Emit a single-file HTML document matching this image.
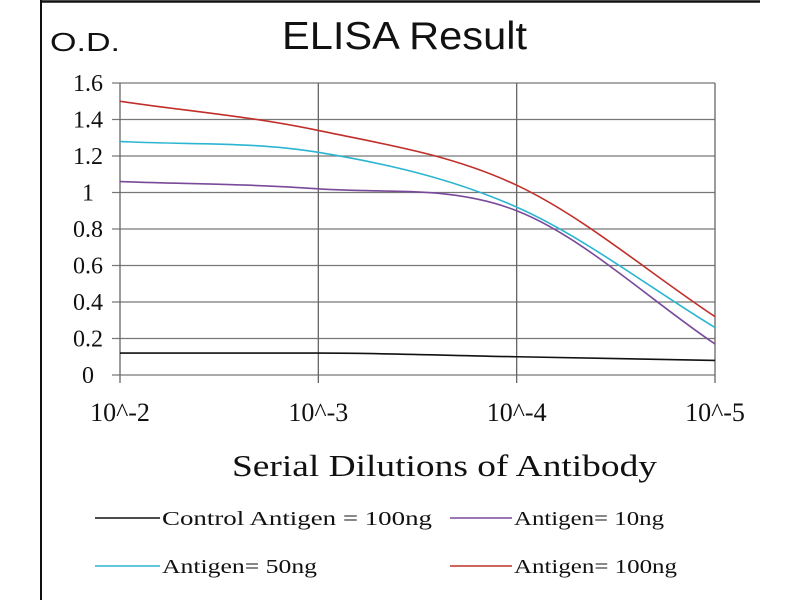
<!DOCTYPE html>
<html><head><meta charset="utf-8"><style>
body{margin:0;background:#fff;width:800px;height:600px;overflow:hidden}
svg text{font-family:"Liberation Serif",serif;fill:#111}
</style></head><body>
<svg id="chart" width="800" height="600">
<line x1="41" y1="0" x2="41" y2="600" stroke="#111" stroke-width="2"/>
<line x1="41" y1="1.5" x2="760" y2="1.5" stroke="#111" stroke-width="2.5"/>
<text x="50" y="51" font-size="26" textLength="70" lengthAdjust="spacingAndGlyphs" style="font-family:'Liberation Sans',sans-serif">O.D.</text>
<text x="282" y="49" font-size="39" textLength="245" lengthAdjust="spacingAndGlyphs" style="font-family:'Liberation Sans',sans-serif">ELISA Result</text>
<g id="grid"></g><g id="series"></g>
<text x="232" y="476" font-size="31" textLength="425" lengthAdjust="spacingAndGlyphs">Serial  Dilutions  of Antibody</text>
<g>
<line x1="95" y1="518" x2="160" y2="518" stroke="#111" stroke-width="1.5"/>
<text x="162" y="525" font-size="20" textLength="270" lengthAdjust="spacingAndGlyphs">Control Antigen = 100ng</text>
<line x1="450" y1="518" x2="512" y2="518" stroke="#7a4a9a" stroke-width="1.5"/>
<text x="514" y="525" font-size="20" textLength="150" lengthAdjust="spacingAndGlyphs">Antigen= 10ng</text>
<line x1="95" y1="566" x2="160" y2="566" stroke="#2bb5d0" stroke-width="1.5"/>
<text x="162" y="573" font-size="20" textLength="155" lengthAdjust="spacingAndGlyphs">Antigen= 50ng</text>
<line x1="450" y1="566" x2="512" y2="566" stroke="#c0302a" stroke-width="1.5"/>
<text x="514" y="573" font-size="20" textLength="163" lengthAdjust="spacingAndGlyphs">Antigen= 100ng</text>
</g>
</svg>
<script>
const categories=["10^-2","10^-3","10^-4","10^-5"];
const yTicks=[0,0.2,0.4,0.6,0.8,1,1.2,1.4,1.6];
const yTickLabels=["0","0.2","0.4","0.6","0.8","1","1.2","1.4","1.6"];
const controlValues=[0.12,0.12,0.10,0.08];
const ng10Values=[1.06,1.02,0.90,0.17];
const ng50Values=[1.28,1.22,0.92,0.26];
const ng100Values=[1.50,1.34,1.04,0.32];
const NS="http://www.w3.org/2000/svg";
const X0=120,X1=715,Y0=375,Y1=83;
const xs=i=>X0+i*(X1-X0)/(categories.length-1);
const ys=v=>Y0-v/1.6*(Y0-Y1);
const grid=document.getElementById('grid'),ser=document.getElementById('series');
function mk(tag,attrs,parent){const e=document.createElementNS(NS,tag);for(const k in attrs)e.setAttribute(k,attrs[k]);parent.appendChild(e);return e;}
yTicks.forEach((t,i)=>{
  const l=mk('line',{x1:112,x2:X1,y1:ys(t),y2:ys(t),stroke:'#777','stroke-width':1.3},grid);
  
  
  const tx=mk('text',{x:88,y:ys(t)+8,'font-size':24,'text-anchor':'middle'},grid);
  tx.textContent=yTickLabels[i];
  
  
});
categories.forEach((c,i)=>{
  const l=mk('line',{x1:xs(i),x2:xs(i),y1:Y1,y2:Y0+8,stroke:'#666','stroke-width':1.3},grid);
  
  
  const tx=mk('text',{x:xs(i),y:421,'font-size':26,'text-anchor':'middle'},grid);
  tx.textContent=c;
  
  
});
function smooth(vals){
  const p=vals.map((v,i)=>[xs(i),ys(v)]);const n=p.length;
  const d=[];for(let i=0;i<n-1;i++)d.push((p[i+1][1]-p[i][1])/(p[i+1][0]-p[i][0]));
  const m=[d[0]];for(let i=1;i<n-1;i++)m.push(d[i-1]*d[i]<=0?0:(d[i-1]+d[i])/2);m.push(d[n-2]);
  let s=`M${p[0][0]},${p[0][1]}`;
  for(let i=0;i<n-1;i++){const h=(p[i+1][0]-p[i][0])/3;
    s+=` C${p[i][0]+h},${p[i][1]+m[i]*h} ${p[i+1][0]-h},${p[i+1][1]-m[i+1]*h} ${p[i+1][0]},${p[i+1][1]}`;}
  return s;
}
[[controlValues,'#111','series-control'],[ng10Values,'#7a4a9a','series-10ng'],[ng50Values,'#2bb5d0','series-50ng'],[ng100Values,'#c0302a','series-100ng']].forEach(s=>{
  const p=mk('path',{d:smooth(s[0]),fill:'none',stroke:s[1],'stroke-width':1.6},ser);
  
  
});
</script>
</body></html>
